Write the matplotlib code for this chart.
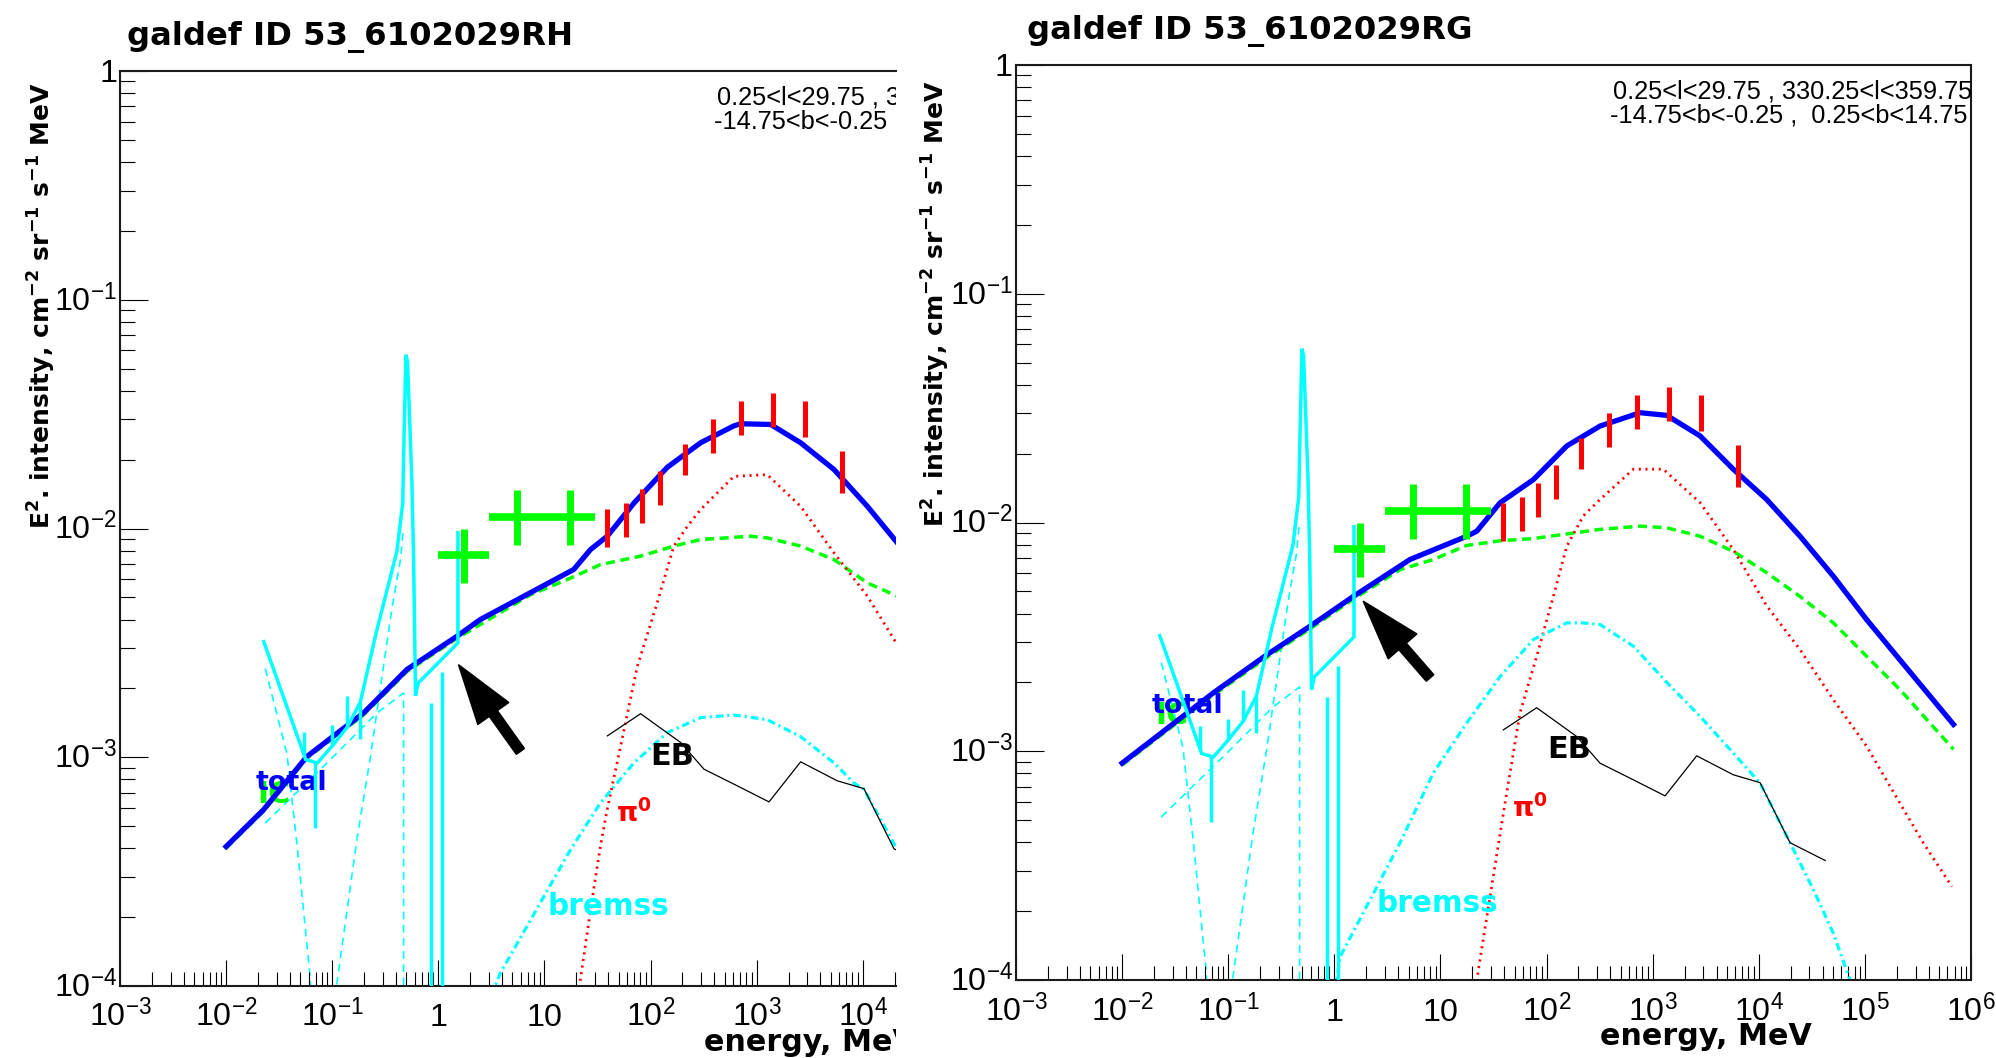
import numpy as np
import matplotlib
matplotlib.use("Agg")
import matplotlib.pyplot as plt
from matplotlib import font_manager as fm
from matplotlib.ticker import LogLocator, NullFormatter
from matplotlib.transforms import (blended_transform_factory, ScaledTranslation,
                                   IdentityTransform, Bbox, TransformedBbox)
from matplotlib.patches import FancyArrow

# ====================== DATA ======================
# observations (shared by both panels)
egret_Elo = [30, 50, 70, 100, 150, 300, 500, 1000, 2000, 4000]
egret_Ehi = [50, 70, 100, 150, 300, 500, 1000, 2000, 4000, 10000]
egret_Ilo = [8.32e-3, 9.18e-3, 1.052e-2, 1.265e-2, 1.714e-2, 2.148e-2, 2.564e-2, 2.786e-2, 2.523e-2, 1.426e-2]
egret_Ihi = [1.216e-2, 1.288e-2, 1.493e-2, 1.786e-2, 2.35e-2, 3.006e-2, 3.614e-2, 3.926e-2, 3.614e-2, 2.188e-2]

comptel_Elo = [1, 3, 10]
comptel_Ehi = [3, 10, 30]
comptel_I = [7.65e-3, 1.125e-2, 1.125e-2]
comptel_Ilo = [5.75e-3, 8.47e-3, 8.47e-3]
comptel_Ihi = [1.0e-2, 1.48e-2, 1.48e-2]

eb_E = [39.2, 80.7, 192.3, 319, 658, 1309, 2600, 5754, 10280, 19720, 42270]
eb_I = [1.24e-3, 1.55e-3, 1.16e-3, 8.87e-4, 7.50e-4, 6.38e-4, 9.55e-4, 7.89e-4, 7.29e-4, 3.98e-4, 3.33e-4]

# low-energy line/continuum components (shared)
line_E = [0.02265, 0.05623, 0.07244, 0.1, 0.138, 0.184, 0.26, 0.407, 0.462, 0.473,
          0.495, 0.513, 0.565, 0.586, 0.61, 0.646, 1.531, 1.531]
line_I = [3.20e-3, 9.77e-4, 9.44e-4, 1.12e-3, 1.35e-3, 1.74e-3, 3.51e-3, 7.94e-3, 1.29e-2, 2.24e-2,
          5.75e-2, 5.37e-2, 1.55e-2, 7.08e-3, 1.86e-3, 2.11e-3, 3.16e-3, 9.59e-3]
spike_E = [0.0537, 0.0692, 0.1, 0.138, 0.184]
spike_lo = [1.0e-3, 4.9e-4, 1.12e-3, 1.35e-3, 1.2e-3]
spike_hi = [1.29e-3, 9.55e-4, 1.38e-3, 1.86e-3, 1.74e-3]
drop_E = [0.845, 1.084]
drop_top = [1.72e-3, 2.36e-3]

d1_E = [0.0234, 0.0374, 0.0468, 0.0619, 0.0646]
d1_I = [2.44e-3, 1.04e-3, 4.07e-4, 1.1e-4, 6e-5]
d2_E = [0.0233, 0.0957, 0.264, 0.471, 0.471]
d2_I = [5.15e-4, 9.75e-4, 1.56e-3, 1.91e-3, 5e-5]
d3_E = [0.106, 0.171, 0.229, 0.305, 0.367, 0.442, 0.468]
d3_I = [8.9e-5, 4.37e-4, 1.0e-3, 2.51e-3, 4.52e-3, 7.41e-3, 1.0e-2]

# ---- left model (RH) ----
L_total_E = [0.01, 0.0225, 0.0577, 0.197, 0.507, 1.50, 2.49, 7.38, 18.9, 27.2, 39.1, 69.7,
             143.6, 296.5, 611, 706, 1355, 2600, 5370, 11070, 21230]
L_total_I = [4.07e-4, 5.89e-4, 1.007e-3, 1.56e-3, 2.42e-3, 3.38e-3, 4.0e-3, 5.24e-3, 6.62e-3, 8.09e-3,
             9.25e-3, 1.29e-2, 1.85e-2, 2.37e-2, 2.81e-2, 2.87e-2, 2.85e-2, 2.37e-2, 1.81e-2, 1.25e-2, 8.65e-3]
L_ic_E = [0.01, 0.0225, 0.0577, 0.197, 0.507, 1.50, 7.38, 16.4, 33.7, 80.5, 166, 296.5, 877,
          1259, 2600, 5370, 11070, 21230]
L_ic_I = [4.0e-4, 5.8e-4, 9.9e-4, 1.53e-3, 2.37e-3, 3.31e-3, 5.13e-3, 5.98e-3, 6.95e-3, 7.57e-3,
          8.38e-3, 8.95e-3, 9.25e-3, 9.10e-3, 8.38e-3, 7.31e-3, 5.78e-3, 5.06e-3]
L_pi_E = [19.05, 21.4, 28.2, 33.7, 39.0, 52.1, 75.0, 115.6, 166.0, 221.8, 296.5, 611, 1259,
          2600, 5370, 11070, 21230]
L_pi_I = [7.08e-5, 1.0e-4, 2.40e-4, 4.07e-4, 5.89e-4, 1.11e-3, 2.49e-3, 4.73e-3, 8.38e-3, 1.02e-2,
          1.21e-2, 1.69e-2, 1.72e-2, 1.25e-2, 7.82e-3, 5.06e-3, 3.10e-3]
L_br_E = [3.16, 3.85, 17.6, 33.7, 69.7, 143.6, 296.5, 611, 1259, 2600, 5370, 8279, 10280, 21230]
L_br_I = [9.1e-5, 1.14e-4, 3.94e-4, 6.31e-4, 9.44e-4, 1.28e-3, 1.49e-3, 1.53e-3, 1.46e-3,
          1.23e-3, 9.44e-4, 7.71e-4, 7.24e-4, 3.94e-4]

# ---- right model (RG) ----
R_total_E = [0.01, 0.0724, 0.231, 0.590, 1.51, 5.16, 17.7, 22.0, 36.5, 75.2, 155, 319, 760, 1358,
             2800, 5754, 11885, 24490, 50470, 104000, 213800, 683900]
R_total_I = [8.87e-4, 1.80e-3, 2.64e-3, 3.52e-3, 4.75e-3, 6.89e-3, 8.71e-3, 9.16e-3, 1.22e-2, 1.54e-2,
             2.16e-2, 2.64e-2, 3.02e-2, 2.94e-2, 2.39e-2, 1.71e-2, 1.26e-2, 8.71e-3, 5.82e-3, 3.76e-3,
             2.51e-3, 1.31e-3]
R_ic_E = [0.01, 0.0724, 0.231, 0.590, 1.51, 4.16, 8.57, 17.7, 36.5, 75.2, 155, 319, 760, 1358,
          2800, 5754, 11885, 24490, 50470, 104000, 213800, 683900]
R_ic_I = [8.71e-4, 1.76e-3, 2.57e-3, 3.43e-3, 4.62e-3, 6.22e-3, 6.89e-3, 7.94e-3, 8.32e-3, 8.51e-3,
          8.91e-3, 9.33e-3, 9.64e-3, 9.48e-3, 8.71e-3, 7.48e-3, 6.03e-3, 4.75e-3, 3.64e-3, 2.60e-3,
          1.86e-3, 1.02e-3]
R_pi_E = [20.0, 22.0, 35.3, 40.6, 56.2, 80.7, 115.9, 155, 222.3, 319, 657.7, 1259, 2800, 5754,
          11885, 24490, 50470, 104000, 213800, 354800, 660700]
R_pi_I = [7.08e-5, 1.0e-4, 3.96e-4, 5.93e-4, 1.47e-3, 2.60e-3, 4.75e-3, 7.87e-3, 1.07e-2, 1.26e-2,
          1.71e-2, 1.71e-2, 1.22e-2, 7.62e-3, 4.32e-3, 2.78e-3, 1.68e-3, 1.05e-3, 5.93e-4, 3.98e-4, 2.56e-4]
R_br_E = [1.02, 1.13, 4.16, 8.57, 17.7, 36.5, 75.2, 155, 222, 319, 658, 1358, 2800, 5754, 10280,
          19720, 32730, 50470, 72440, 89130]
R_br_I = [9.0e-5, 1.26e-4, 3.98e-4, 8.04e-4, 1.33e-3, 2.12e-3, 3.08e-3, 3.64e-3, 3.64e-3, 3.58e-3,
          2.88e-3, 2.0e-3, 1.42e-3, 9.82e-4, 7.26e-4, 3.98e-4, 2.48e-4, 1.60e-4, 1.0e-4, 7.9e-5]

x_ticks = [1e-3, 1e-2, 1e-1, 1, 10, 1e2, 1e3, 1e4, 1e5, 1e6]
x_tick_labels = ["$10^{-3}$", "$10^{-2}$", "$10^{-1}$", "1", "10", "$10^{2}$", "$10^{3}$",
                 "$10^{4}$", "$10^{5}$", "$10^{6}$"]
y_ticks = [1e-4, 1e-3, 1e-2, 1e-1, 1]
y_tick_labels = ["$10^{-4}$", "$10^{-3}$", "$10^{-2}$", "$10^{-1}$", "1"]

titles = ["galdef ID 53_6102029RH", "galdef ID 53_6102029RG"]
region_lines = ["0.25<l<29.75 , 330.25<l<359.75", "-14.75<b<-0.25 ,  0.25<b<14.75"]

# ====================== STYLE ======================
avail = {f.name for f in fm.fontManager.ttflist}
NARROW = 'Liberation Sans Narrow' if 'Liberation Sans Narrow' in avail else 'Liberation Sans'
REG = 'Liberation Sans'
BOLD = 'DejaVu Sans'
plt.rcParams['mathtext.fontset'] = 'custom'
plt.rcParams['mathtext.rm'] = NARROW
plt.rcParams['mathtext.it'] = NARROW
plt.rcParams['mathtext.bf'] = 'DejaVu Sans:bold'
plt.rcParams['lines.scale_dashes'] = False

BLUE, GREEN, RED, CYAN = '#0000ff', '#00ff00', '#ff0000', '#00ffff'

W, H = 1996, 1058
PXDEC = 106.1
fig = plt.figure(figsize=(W / 100, H / 100), dpi=100)
fig.patch.set_facecolor('white')

axL = fig.add_axes([120 / W, 1 - 986 / H, 776 / W, 915 / H])
axR = fig.add_axes([1016 / W, 1 - 980 / H, 955 / W, 915 / H])

for ax in (axL, axR):
    ax.set_xscale('log')
    ax.set_yscale('log')
    ax.set_ylim(1e-4, 1)
    ax.set_facecolor('white')
    for sp in ax.spines.values():
        sp.set_linewidth(1.5)
        sp.set_color('#1a1a1a')
axL.set_xlim(1e-3, 10 ** (-3 + 776 / PXDEC))
axR.set_xlim(1e-3, 1e6)
axL.spines['right'].set_visible(False)

for ax in (axL, axR):
    ax.xaxis.set_major_locator(LogLocator(base=10, numticks=100))
    ax.xaxis.set_minor_locator(LogLocator(base=10, subs=np.arange(2, 10), numticks=100))
    ax.yaxis.set_major_locator(LogLocator(base=10, numticks=100))
    ax.yaxis.set_minor_locator(LogLocator(base=10, subs=np.arange(2, 10), numticks=100))
    ax.xaxis.set_minor_formatter(NullFormatter())
    ax.yaxis.set_minor_formatter(NullFormatter())
    ax.tick_params(which='both', direction='in', top=False, right=False,
                   labelbottom=False, labelleft=False, color='black', width=0.8)
    ax.tick_params(axis='x', which='major', length=18.5)
    ax.tick_params(axis='x', which='minor', length=10)
    ax.tick_params(axis='y', which='major', length=20)
    ax.tick_params(axis='y', which='minor', length=10.8)


def draw_panel(ax, tE, tI, icE, icI, piE, piI, brE, brI):
    # thin dashed low-energy components
    for e, i in ((d1_E, d1_I), (d2_E, d2_I), (d3_E, d3_I)):
        ax.plot(e, i, color=CYAN, lw=1.2, dashes=(5.5, 4.0), zorder=1.5)
    ax.plot(icE, icI, color=GREEN, lw=2.5, dashes=(6.5, 4.0), zorder=2)
    ax.plot(piE, piI, color=RED, lw=2.0, dashes=(1.5, 3.3), zorder=2)
    ax.plot(brE, brI, color=CYAN, lw=2.3, dashes=(5.5, 2.8, 1.6, 2.8), zorder=2)
    ax.plot(eb_E, eb_I, color='black', lw=0.9, zorder=2.1)
    ax.plot(tE, tI, color=BLUE, lw=3.8, zorder=3, solid_joinstyle='round')
    # low-energy line spectrum
    ax.plot(line_E, line_I, color=CYAN, lw=2.5, zorder=4, solid_joinstyle='miter')
    ax.vlines(spike_E, spike_lo, spike_hi, color=CYAN, lw=2.5, zorder=4)
    ax.vlines(drop_E, [1e-5] * len(drop_E), drop_top, color=CYAN, lw=2.5, zorder=4)
    # COMPTEL crosses
    cx = np.sqrt(np.array(comptel_Elo) * np.array(comptel_Ehi))
    ax.hlines(comptel_I, comptel_Elo, comptel_Ehi, color=GREEN, lw=5.5, zorder=5)
    ax.vlines(cx, comptel_Ilo, comptel_Ihi, color=GREEN, lw=5.0, zorder=5)
    # EGRET bars
    ex = np.sqrt(np.array(egret_Elo) * np.array(egret_Ehi))
    ax.vlines(ex, egret_Ilo, egret_Ihi, color=RED, lw=3.6, zorder=5)


draw_panel(axL, L_total_E, L_total_I, L_ic_E, L_ic_I, L_pi_E, L_pi_I, L_br_E, L_br_I)
draw_panel(axR, R_total_E, R_total_I, R_ic_E, R_ic_I, R_pi_E, R_pi_I, R_br_E, R_br_I)

renderer = fig.canvas.get_renderer()


def fit(t, target, along_height=False):
    bb = t.get_window_extent(renderer)
    w = bb.height if along_height else bb.width
    t.set_fontsize(t.get_fontsize() * target / w)
    return t.get_fontsize()


# ---- tick label font size ----
tmp = fig.text(0.5, 0.5, "$10^{-1}$", fontsize=20, family=NARROW)
fs_tick = fit(tmp, 63)
tmp.remove()

clip_left = TransformedBbox(Bbox([[0, 0], [896 / W, 1]]), fig.transFigure)


def tick_labels(ax, base_below_px, clipbox=None):
    axh = ax.get_position().height * H
    axw = ax.get_position().width * W
    xmin, xmax = ax.get_xlim()
    trx = blended_transform_factory(ax.transData, ax.transAxes)
    for v, lab in zip(x_ticks, x_tick_labels):
        if v < xmin * 0.999 or v > xmax * 1.001:
            continue
        t = ax.text(v, -base_below_px / axh, lab, transform=trx, ha='center', va='baseline',
                    fontsize=fs_tick, family=NARROW, color='black', clip_on=False)
        if clipbox is not None:
            t.set_clip_box(clipbox)
            t.set_clip_on(True)
    off = ScaledTranslation(0, -0.35 * fs_tick / 72, fig.dpi_scale_trans)
    tr_y = blended_transform_factory(ax.transAxes, ax.transData) + off
    for v, lab in zip(y_ticks, y_tick_labels):
        ax.text(-3.0 / axw, v, lab, transform=tr_y, ha='right', va='baseline',
                fontsize=fs_tick, family=NARROW, color='black', clip_on=False)


tick_labels(axL, 40, clip_left)
tick_labels(axR, 41)


def fig_text(x_px, y_px, s, **kw):
    return fig.text(x_px / W, 1 - y_px / H, s, **kw)


# titles
tR = fig_text(1027, 39, titles[1], ha='left', va='baseline', family=BOLD, weight='bold', fontsize=20)
fs_title = fit(tR, 446)
fig_text(127, 45, titles[0], ha='left', va='baseline', family=BOLD, weight='bold', fontsize=fs_title)

# region annotation
aR1 = fig_text(1972, 98, region_lines[0], ha='right', va='baseline', family=REG, fontsize=14)
fs_ann = fit(aR1, 362)
fig_text(1967, 122, region_lines[1], ha='right', va='baseline', family=REG, fontsize=fs_ann)
for x, y, s in ((1076, 104, region_lines[0]), (1071, 128, region_lines[1])):
    t = fig_text(x, y, s, ha='right', va='baseline', family=REG, fontsize=fs_ann)
    t.set_clip_box(clip_left)
    t.set_clip_on(True)

# x labels
xR = fig_text(1812, 1045, "energy, MeV", ha='right', va='baseline', family=BOLD, weight='bold', fontsize=20)
fs_xl = fit(xR, 212)
t = fig_text(916, 1051, "energy, MeV", ha='right', va='baseline', family=BOLD, weight='bold', fontsize=fs_xl)
t.set_clip_box(clip_left)
t.set_clip_on(True)

# y labels
ylab = r"E$^{\mathbf{2}}$. intensity, cm$^{\mathbf{-2}}$ sr$^{\mathbf{-1}}$ s$^{\mathbf{-1}}$ MeV"
yR = fig_text(945, 80, ylab, rotation=90, rotation_mode='anchor', ha='right', va='baseline',
              family=BOLD, weight='bold', fontsize=18)
fs_yl = fit(yR, 448, along_height=True)
fig_text(51, 82, ylab, rotation=90, rotation_mode='anchor', ha='right', va='baseline',
         family=BOLD, weight='bold', fontsize=fs_yl)

# curve labels (data coords)
label_pos = {
    axL: dict(IC=(0.0195, 6.3e-4), total=(0.0188, 7.2e-4), EB=(100, 9.27e-4),
              pi=(46.8, 5.22e-4), bremss=(10.7, 2.05e-4)),
    axR: dict(IC=(0.0207, 1.31e-3), total=(0.019, 1.47e-3), EB=(101, 9.37e-4),
              pi=(47.3, 5.16e-4), bremss=(2.52, 1.99e-4)),
}
targets = dict(IC=33, total=72, EB=44, pi=36, bremss=122)
texts = dict(IC="IC", total="total", EB="EB", pi=r"π$^{\mathbf{0}}$", bremss="bremss")
colors = dict(IC=GREEN, total=BLUE, EB='black', pi=RED, bremss=CYAN)
zo = dict(IC=2.5, total=3.5, EB=3.5, pi=3.5, bremss=3.5)
sizes = {}
for ax in (axR, axL):
    for k, (x, y) in label_pos[ax].items():
        t = ax.text(x, y, texts[k], ha='left', va='baseline', family=BOLD, weight='bold',
                    color=colors[k], fontsize=sizes.get(k, 16), zorder=zo[k])
        if k not in sizes:
            sizes[k] = fit(t, targets[k])

# arrows (annotation) tip/tail in data coords
arrows = {axL: ((1.55, 2.54e-3), (5.94, 1.06e-3)), axR: ((1.87, 4.53e-3), (7.98, 2.09e-3))}
for ax, (tip, tail) in arrows.items():
    p_tip = ax.transData.transform(tip)
    p_tail = ax.transData.transform(tail)
    arr = FancyArrow(p_tail[0], p_tail[1], p_tip[0] - p_tail[0], p_tip[1] - p_tail[1],
                     width=10, head_width=38, head_length=60, length_includes_head=True,
                     color='black', transform=IdentityTransform(), zorder=10)
    fig.add_artist(arr)

fig.savefig('out.png', dpi=100, facecolor='white')
